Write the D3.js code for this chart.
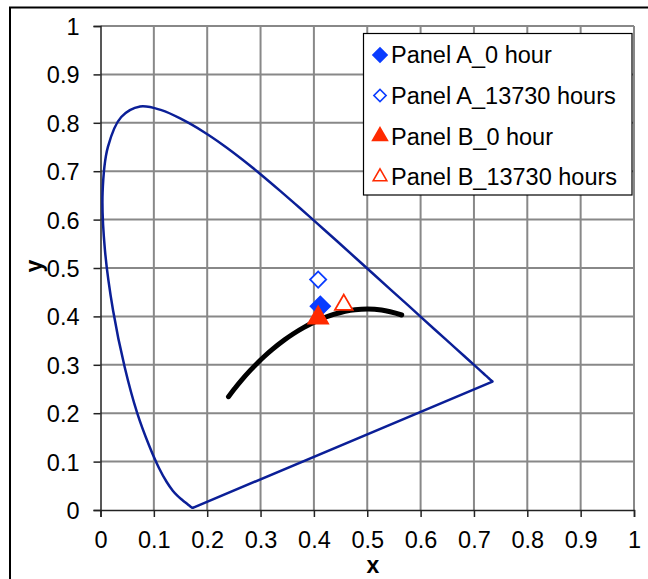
<!DOCTYPE html>
<html lang="en"><head>
<meta charset="utf-8">
<title>CIE 1931 chromaticity - panel A / panel B</title>
<script src="https://d3js.org/d3.v7.min.js"></script>
<style>
  body { margin: 0; background: #fff; }
  text { font-family: "Liberation Sans", Arial, sans-serif; }
</style>
<script>
  // spectral locus, 380..700 nm (CIE 1931 2 deg)
  const spectralX = [0.1741, 0.1740, 0.1738, 0.1736, 0.1733, 0.1730, 0.1726, 0.1721, 0.1714, 0.1703,
                     0.1689, 0.1669, 0.1644, 0.1611, 0.1566, 0.1510, 0.1440, 0.1355, 0.1241, 0.1096,
                     0.0913, 0.0687, 0.0454, 0.0235, 0.0082, 0.0039, 0.0139, 0.0389, 0.0743, 0.1142,
                     0.1547, 0.1929, 0.2296, 0.2658, 0.3016, 0.3373, 0.3731, 0.4087, 0.4441, 0.4788,
                     0.5125, 0.5448, 0.5752, 0.6029, 0.6270, 0.6482, 0.6658, 0.6801, 0.6915, 0.7006,
                     0.7079, 0.7140, 0.7190, 0.7230, 0.7260, 0.7283, 0.7300, 0.7311, 0.7320, 0.7327,
                     0.7334, 0.7344, 0.7347];
  const spectralY = [0.0050, 0.0050, 0.0049, 0.0049, 0.0048, 0.0048, 0.0048, 0.0048, 0.0051, 0.0058,
                     0.0069, 0.0086, 0.0109, 0.0138, 0.0177, 0.0227, 0.0297, 0.0399, 0.0578, 0.0868,
                     0.1327, 0.2007, 0.2950, 0.4127, 0.5384, 0.6548, 0.7502, 0.8120, 0.8338, 0.8262,
                     0.8059, 0.7816, 0.7543, 0.7243, 0.6923, 0.6589, 0.6245, 0.5896, 0.5547, 0.5202,
                     0.4866, 0.4544, 0.4242, 0.3965, 0.3725, 0.3514, 0.3340, 0.3197, 0.3083, 0.2993,
                     0.2920, 0.2859, 0.2809, 0.2770, 0.2740, 0.2717, 0.2700, 0.2689, 0.2680, 0.2673,
                     0.2666, 0.2656, 0.2653];

  // blackbody locus, infinity down to ~1667 K
  const planckX = [0.2399, 0.2524, 0.2637, 0.2807, 0.2952, 0.3064, 0.3221, 0.3451, 0.3608, 0.3805,
                   0.4053, 0.4369, 0.4770, 0.5267, 0.5646];
  const planckY = [0.2342, 0.2522, 0.2674, 0.2884, 0.3048, 0.3166, 0.3318, 0.3516, 0.3636, 0.3768,
                   0.3907, 0.4041, 0.4137, 0.4133, 0.4029];

  // measured points
  const seriesNames = ["Panel A_0 hour", "Panel A_13730 hours", "Panel B_0 hour", "Panel B_13730 hours"];
  const seriesX = [0.412, 0.408, 0.408, 0.456];
  const seriesY = [0.421, 0.476, 0.397, 0.424];

  const tickValues = [0, 0.1, 0.2, 0.3, 0.4, 0.5, 0.6, 0.7, 0.8, 0.9, 1];
  const tickLabels = ["0", "0.1", "0.2", "0.3", "0.4", "0.5", "0.6", "0.7", "0.8", "0.9", "1"];

  const width = 648, height = 579;
  const plotLeft = 100.5, plotRight = 634, plotTop = 26, plotBottom = 510;
  const fontSize = "23.5px";
  const navy = "#0b1f97", blue = "#0a3cff", red = "#ff2a00";
</script>
</head>
<body>
<script>
  const svg = d3.select("body").append("svg")
    .attr("width", width)
    .attr("height", height);

  // outer chart frame (only left and top are inside the picture)
  svg.append("rect")
    .attr("x", 10).attr("y", 7.5)
    .attr("width", 700).attr("height", 700)
    .attr("fill", "none").attr("stroke", "#000").attr("stroke-width", 2);

  const xScale = d3.scaleLinear().domain([0, 1]).range([plotLeft, plotRight]);
  const yScale = d3.scaleLinear().domain([0, 1]).range([plotBottom, plotTop]);

  // grid
  const grid = svg.append("g");
  grid.selectAll("line.v").data(tickValues.slice(1)).enter().append("line")
    .attr("class", "v")
    .attr("x1", d => xScale(d)).attr("x2", d => xScale(d))
    .attr("y1", plotTop).attr("y2", plotBottom)
    .attr("stroke", "#888").attr("stroke-width", 2);
  grid.selectAll("line.h").data(tickValues.slice(1)).enter().append("line")
    .attr("class", "h")
    .attr("x1", plotLeft).attr("x2", plotRight)
    .attr("y1", d => yScale(d)).attr("y2", d => yScale(d))
    .attr("stroke", "#888").attr("stroke-width", 2);

  // axes
  const xAxis = d3.axisBottom(xScale).tickValues(tickValues)
    .tickFormat((d, i) => tickLabels[i]).tickSize(7).tickPadding(14);
  const yAxis = d3.axisLeft(yScale).tickValues(tickValues)
    .tickFormat((d, i) => tickLabels[i]).tickSize(7).tickPadding(14);

  const gx = svg.append("g").attr("transform", "translate(0," + plotBottom + ")").call(xAxis);
  const gy = svg.append("g").attr("transform", "translate(" + plotLeft + ",0)").call(yAxis);
  [gx, gy].forEach(g => {
    g.select(".domain").attr("stroke", "#222").attr("stroke-width", 1.5);
    g.selectAll(".tick line").attr("stroke", "#222").attr("stroke-width", 1.5);
    g.selectAll(".tick text")
      .attr("font-family", "Liberation Sans, Arial, sans-serif")
      .attr("font-size", fontSize).attr("fill", "#000");
  });
  gy.selectAll(".tick text").attr("dy", "0.36em");

  // axis titles
  svg.append("text")
    .attr("x", 373).attr("y", 573)
    .attr("text-anchor", "middle")
    .attr("font-size", "23px").attr("font-weight", "bold")
    .text("x");
  svg.append("text")
    .attr("transform", "translate(42,266) rotate(-90)")
    .attr("text-anchor", "middle")
    .attr("font-size", "23px").attr("font-weight", "bold")
    .text("y");

  // spectral locus (smoothed) and the straight purple line closing it
  const locus = spectralX.map((x, i) => [x, spectralY[i]]);
  const line = d3.line().x(d => xScale(d[0])).y(d => yScale(d[1]));
  svg.append("path")
    .datum(locus)
    .attr("d", line.curve(d3.curveCatmullRom.alpha(0.5)))
    .attr("fill", "none").attr("stroke", navy).attr("stroke-width", 2.5)
    .attr("stroke-linejoin", "round");
  svg.append("path")
    .datum([locus[locus.length - 1], locus[0]])
    .attr("d", d3.line().x(d => xScale(d[0])).y(d => yScale(d[1])))
    .attr("fill", "none").attr("stroke", navy).attr("stroke-width", 2.5)
    .attr("stroke-linecap", "round");

  // blackbody locus
  const planck = planckX.map((x, i) => [x, planckY[i]]);
  svg.append("path")
    .datum(planck)
    .attr("d", d3.line().x(d => xScale(d[0])).y(d => yScale(d[1])).curve(d3.curveCatmullRom))
    .attr("fill", "none").attr("stroke", "#000").attr("stroke-width", 5)
    .attr("stroke-linecap", "round");

  // markers: diamonds are squares turned by 45 degrees
  const markerStyle = [
    { type: d3.symbolSquare, rot: 45, fill: blue, stroke: blue },
    { type: d3.symbolSquare, rot: 45, fill: "#fff", stroke: blue },
    { type: d3.symbolTriangle, rot: 0, fill: red, stroke: red },
    { type: d3.symbolTriangle, rot: 0, fill: "#fff", stroke: red }
  ];
  const plotSize = [190, 130, 170, 135];
  const legendSize = [100, 75, 95, 80];
  const symbolPath = (i, size) => d3.symbol().type(markerStyle[i].type).size(size)();

  svg.selectAll("path.pt")
    .data(seriesX)
    .enter().append("path")
    .attr("class", "pt")
    .attr("transform", (d, i) => "translate(" + xScale(d) + "," + yScale(seriesY[i]) + ") rotate(" + markerStyle[i].rot + ")")
    .attr("d", (d, i) => symbolPath(i, plotSize[i]))
    .attr("fill", (d, i) => markerStyle[i].fill)
    .attr("stroke", (d, i) => markerStyle[i].stroke)
    .attr("stroke-width", 1.8);

  // legend
  const legend = svg.append("g");
  legend.append("rect")
    .attr("x", 363.5).attr("y", 33.5)
    .attr("width", 268.5).attr("height", 161.5)
    .attr("fill", "#fff").attr("stroke", "#000").attr("stroke-width", 1.2);

  const rows = legend.selectAll("g.row")
    .data(seriesNames)
    .enter().append("g")
    .attr("class", "row")
    .attr("transform", (d, i) => "translate(380," + (55 + i * 40.6) + ")");
  rows.append("path")
    .attr("transform", (d, i) => "rotate(" + markerStyle[i].rot + ")")
    .attr("d", (d, i) => symbolPath(i, legendSize[i]))
    .attr("fill", (d, i) => markerStyle[i].fill)
    .attr("stroke", (d, i) => markerStyle[i].stroke)
    .attr("stroke-width", 1.6);
  rows.append("text")
    .attr("x", 11).attr("dy", "0.36em")
    .attr("font-size", fontSize)
    .text(d => d);
</script>
</body></html>
